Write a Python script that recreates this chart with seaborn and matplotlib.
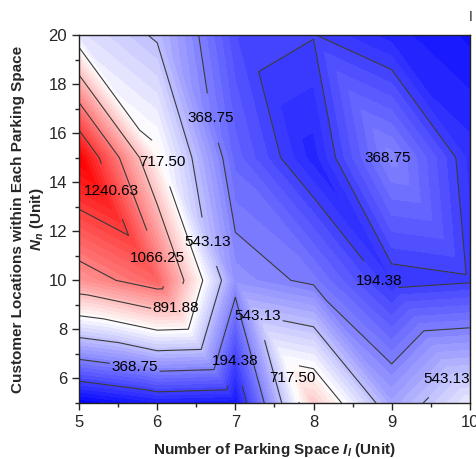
import numpy as np
import matplotlib
matplotlib.use("Agg")
import matplotlib.pyplot as plt
import matplotlib.tri as mtri
import seaborn as sns

# ---- data ----
x_vals = [5, 6, 7, 8, 9, 10]
y_vals = [5, 10, 15, 20]
z_y5 = [20, 100, 80, 860, 464, 660]
z_y10 = [1000, 1140, 415, 350, 165, 185]
z_y15 = [1415, 740, 297, 120, 384, 153]
z_y20 = [640, 530, 226, 197, 120, 70]
z_rows = [z_y5, z_y10, z_y15, z_y20]

line_levels = [194.38, 368.75, 543.13, 717.50, 891.88, 1066.25, 1240.63]

sns.set_style("ticks")
plt.rcParams["font.family"] = ["Liberation Sans", "DejaVu Sans"]
plt.rcParams["mathtext.fontset"] = "custom"
plt.rcParams["mathtext.rm"] = "Liberation Sans"
plt.rcParams["mathtext.it"] = "Liberation Sans:italic"
plt.rcParams["mathtext.bf"] = "Liberation Sans:bold"
plt.rcParams["mathtext.bfit"] = "Liberation Sans:bold:italic"

# build triangulated xyz points
X, Y = np.meshgrid(x_vals, y_vals)
Z = np.array(z_rows, dtype=float)
nx, ny = len(x_vals), len(y_vals)
px = X.ravel(); py = Y.ravel(); pz = Z.ravel()
tris = []
for j in range(ny - 1):
    for i in range(nx - 1):
        a = j * nx + i          # (xi, yj)
        b = j * nx + i + 1      # (xi+1, yj)
        c = (j + 1) * nx + i    # (xi, yj+1)
        d = (j + 1) * nx + i + 1
        tris.append([a, b, c])
        tris.append([b, d, c])
tri = mtri.Triangulation(px, py, tris)

fig = plt.figure(figsize=(4.77, 4.59), dpi=100)
ax = fig.add_axes([0.1656, 0.122, 0.8194, 0.8017])

zmin, zmax = 20.0, 1415.0
fill_levels = np.linspace(zmin, zmax, 49)
ax.tricontourf(tri, pz, levels=fill_levels, cmap="bwr", vmin=zmin, vmax=zmax,
               extend="both")
cs = ax.tricontour(tri, pz, levels=line_levels, colors="#3a3a3a", linewidths=0.8)
label_pos = [(5.4, 13.6), (6.0, 10.9), (6.23, 8.87), (6.05, 14.8), (6.69, 16.6),
             (6.73, 11.65), (7.3, 8.9), (5.7, 6.26), (7.0, 6.96), (7.76, 6.06),
             (8.85, 10.0), (8.95, 14.98), (9.62, 6.22)]
texts = ax.clabel(cs, fmt="%.2f", fontsize=11, inline=True, inline_spacing=2,
                  manual=label_pos, colors="black")
for t in texts:
    t.set_rotation(0)

ax.set_xlim(5, 10)
ax.set_ylim(5, 20)
ax.set_xticks([5, 6, 7, 8, 9, 10])
ax.set_xticks(np.arange(5.5, 10, 1), minor=True)
ax.set_yticks(np.arange(6, 21, 2))
ax.set_yticks(np.arange(5, 20, 2), minor=True)
ax.tick_params(axis="both", which="major", direction="out", length=5, width=1,
               labelsize=12, top=False, right=False)
ax.tick_params(axis="both", which="minor", direction="out", length=3, width=1,
               top=False, right=False)
for s in ax.spines.values():
    s.set_linewidth(1.0)
    s.set_color("#222222")

ax.set_xlabel(r"Number of Parking Space $\mathbfit{I}_{\mathbfit{l}}$ (Unit)",
              fontsize=11, fontweight="bold", labelpad=8)
ax.set_ylabel("Customer Locations within Each Parking Space\n"
              r"$\mathbfit{N}_{\mathbfit{n}}$ (Unit)",
              fontsize=11, fontweight="bold", labelpad=2, linespacing=1.2)
fig.text(0.982, 0.955, "I", fontsize=10)

fig.savefig("out.png", dpi=100)
